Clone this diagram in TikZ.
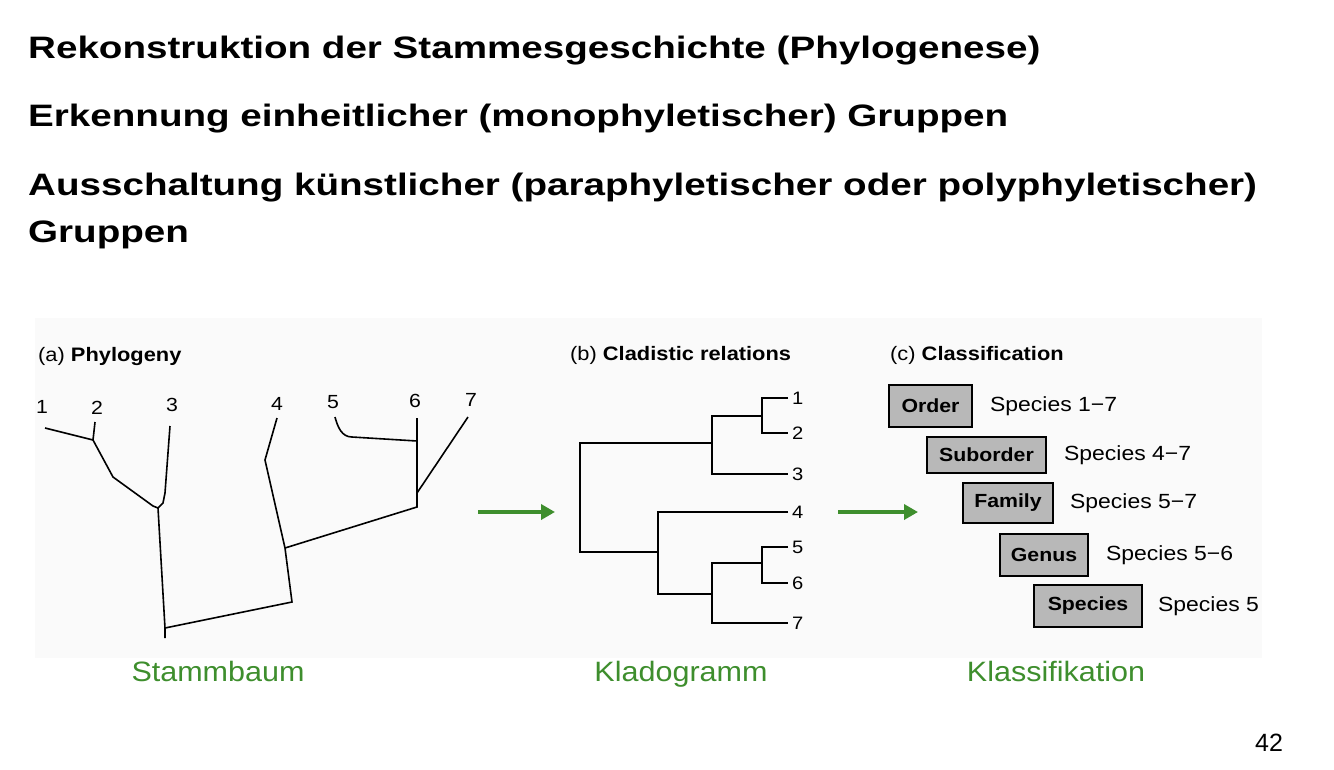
\documentclass[tikz,border=0pt]{standalone}
\usepackage{fontspec}
\setmainfont{Liberation Sans}
\newfontfamily\headfont[FakeStretch=1.245]{Liberation Sans}
\newfontfamily\scanfont[FakeStretch=1.12]{Liberation Sans}
\newfontfamily\capfont[FakeStretch=1.09]{Liberation Sans}
\usetikzlibrary{arrows.meta, positioning}
\definecolor{slidegreen}{RGB}{62,142,45}
\tikzstyle{headline} = [anchor=base west, inner sep=0pt, font=\headfont\bfseries\fontsize{31}{34}\selectfont]
\tikzstyle{panel} = [anchor=base west, inner sep=0pt, font=\scanfont\fontsize{19.5}{21}\selectfont]
\tikzstyle{taxon} = [inner sep=1pt, font=\scanfont\fontsize{19}{20}\selectfont]
\tikzstyle{clade} = [anchor=west, inner sep=4pt, font=\scanfont\fontsize{18}{20}\selectfont]
\tikzstyle{branch} = [line width=1.6pt]
\tikzstyle{rank} = [draw, line width=1.8pt, fill=black!28, inner xsep=2pt, minimum height=40pt, font=\scanfont\bfseries\fontsize{19}{20}\selectfont]
\tikzstyle{members} = [inner sep=0pt, font=\scanfont\fontsize{20.5}{22}\selectfont]
\tikzstyle{caption} = [anchor=base, text=slidegreen, font=\capfont\fontsize{28}{32}\selectfont]
\tikzstyle{flow} = [draw=slidegreen, line width=4pt, -{Triangle[length=14pt,width=15pt]}]

\begin{document}
\begin{tikzpicture}[x=1pt, y=-1pt]
    \useasboundingbox (0,0) rectangle (1334,769);
    \fill [black!2] (35,318) rectangle (1262,658);

    % headlines
    \node [headline] (h1) at (28,58) {Rekonstruktion der Stammesgeschichte (Phylogenese)};
    \node [headline] (h2) at (28,126) {Erkennung einheitlicher (monophyletischer) Gruppen};
    \node [headline] (h3) at (28,195) {Ausschaltung künstlicher (paraphyletischer oder polyphyletischer)};
    \node [headline] (h4) at (28,242) {Gruppen};

    % (a) phylogeny
    \node [panel] (phylo) at (38,361) {(a) \textbf{Phylogeny}};
    \node [taxon] (p1) at (42,407) {1};
    \node [taxon] (p2) at (97,408) {2};
    \node [taxon] (p3) at (172,405) {3};
    \node [taxon] (p4) at (277,404) {4};
    \node [taxon] (p5) at (333,402) {5};
    \node [taxon] (p6) at (415,401) {6};
    \node [taxon] (p7) at (471,400) {7};
    \coordinate (t1) at (45,428);
    \coordinate (t2) at (95,422);
    \coordinate (t3) at (170,426);
    \coordinate (t4) at (277,418);
    \coordinate (t5) at (335,417);
    \coordinate (t6) at (417,418);
    \coordinate (t7) at (468,417);
    \coordinate (j12) at (93,440);
    \coordinate (j123) at (158,508);
    \coordinate (j56) at (417,441);
    \coordinate (j567) at (417,507);
    \coordinate (j7) at (417,493);
    \coordinate (j4) at (285,548);
    \coordinate (jroot) at (165,628);
    \coordinate (bend) at (292,602);
    \draw [branch] (t1) -- (j12) -- (t2);
    \draw [branch] (j12) -- (113,477) -- (153,506) -- (j123);
    \draw [branch] (t3) -- (165,493) -- (163,503) -- (j123);
    \draw [branch] (j123) -- (jroot) -- (165,638);
    \draw [branch] (jroot) -- (bend) -- (j4) -- (265,460) -- (t4);
    \draw [branch] (j4) -- (j567) -- (t6);
    \draw [branch] (t5) to [out=-75, in=180] (352,437) -- (j56);
    \draw [branch] (t7) -- (j7);

    \draw [flow] (478,512) coordinate (a1s) -- (555,512) coordinate (a1e);

    % (b) cladogram
    \node [panel] (clad) at (570,360) {(b) \textbf{Cladistic relations}};
    \node [clade] (c1) at (788,398) {1};
    \node [clade] (c2) at (788,433) {2};
    \node [clade] (c3) at (788,474) {3};
    \node [clade] (c4) at (788,512) {4};
    \node [clade] (c5) at (788,547) {5};
    \node [clade] (c6) at (788,583) {6};
    \node [clade] (c7) at (788,623) {7};
    \coordinate (n12) at (762,416);
    \coordinate (n123) at (712,443);
    \coordinate (n56) at (762,563);
    \coordinate (n567) at (712,594);
    \coordinate (n4567) at (658,552);
    \coordinate (nroot) at (580,497);
    \draw [branch] (c1.west) -| (n12) |- (c2.west);
    \draw [branch] (n12) -| (n123) |- (c3.west);
    \draw [branch] (n123) -| (nroot) |- (n4567);
    \draw [branch] (c4.west) -| (n4567) |- (n567);
    \draw [branch] (c5.west) -| (n56) |- (c6.west);
    \draw [branch] (n56) -| (n567) |- (c7.west);

    \draw [flow] (838,512) coordinate (a2s) -- (918,512) coordinate (a2e);

    % (c) classification
    \node [panel] (classi) at (890,360) {(c) \textbf{Classification}};
    \node [rank, minimum width=83pt, minimum height=42pt] (order) at (930.5,406) {Order};
    \node [rank, minimum width=119pt, minimum height=36pt] (suborder) at (986.5,455) {Suborder};
    \node [rank, minimum width=90pt] (family) at (1008,503) {Family};
    \node [rank, minimum width=88pt, minimum height=42pt] (genus) at (1044,555) {Genus};
    \node [rank, minimum width=108pt, minimum height=42pt] (species) at (1088,606) {Species};
    \node [members, right=17pt of order] {Species 1−7};
    \node [members, right=17pt of suborder] {Species 4−7};
    \node [members, right=16pt of family] {Species 5−7};
    \node [members, right=17pt of genus] {Species 5−6};
    \node [members, right=15pt of species] {Species 5};

    % captions
    \node [caption] (stamm) at (218,681) {Stammbaum};
    \node [caption] (klado) at (681,681) {Kladogramm};
    \node [caption] (klass) at (1056,681) {Klassifikation};
    \node [font=\fontsize{25}{28}\selectfont] (page) at (1269,743) {42};
\end{tikzpicture}
\end{document}
